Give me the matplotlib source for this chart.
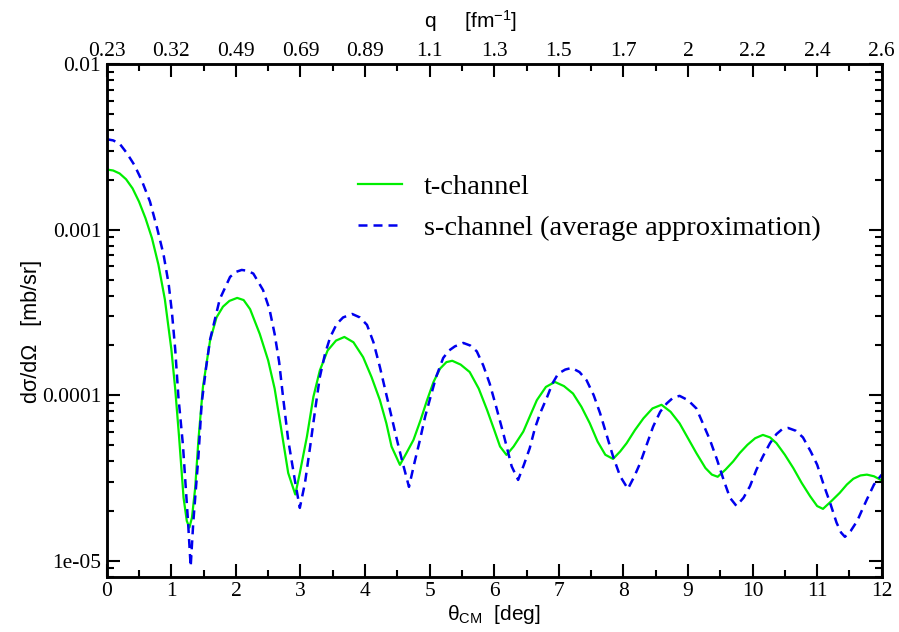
import numpy as np
import matplotlib
matplotlib.use("Agg")
import matplotlib.pyplot as plt
from matplotlib.ticker import FixedLocator, FixedFormatter, LogLocator, NullFormatter, MultipleLocator

# ---- data (cross sections given as log10 of mb/sr) ----
t_theta = [0, 0.1, 0.2, 0.3, 0.4, 0.5, 0.6, 0.7, 0.8, 0.9, 1.0, 1.06, 1.12, 1.19, 1.24,
           1.28, 1.32, 1.37, 1.42, 1.49, 1.6, 1.7, 1.8, 1.9, 2.02, 2.12, 2.22, 2.37, 2.5,
           2.6, 2.7, 2.81, 2.92, 2.99, 3.1, 3.2, 3.3, 3.42, 3.55, 3.68, 3.82, 3.97, 4.1,
           4.23, 4.33, 4.41, 4.54, 4.64, 4.75, 4.86, 4.96, 5.06, 5.16, 5.26, 5.35, 5.48,
           5.62, 5.76, 5.89, 6.0, 6.09, 6.19, 6.3, 6.45, 6.56, 6.66, 6.8, 6.94, 7.08, 7.22,
           7.35, 7.48, 7.6, 7.72, 7.84, 7.95, 8.05, 8.18, 8.31, 8.45, 8.59, 8.73, 8.87,
           9.0, 9.13, 9.27, 9.37, 9.46, 9.58, 9.7, 9.8, 9.92, 10.04, 10.16, 10.27, 10.37,
           10.5, 10.63, 10.76, 10.89, 11.0, 11.09, 11.22, 11.35, 11.46, 11.56, 11.67,
           11.77, 11.88, 12.0]
t_log10 = [-2.636, -2.642, -2.660, -2.695, -2.750, -2.830, -2.930, -3.050, -3.210, -3.420,
           -3.720, -3.960, -4.250, -4.620, -4.760, -4.800, -4.740, -4.560, -4.270, -3.950,
           -3.670, -3.530, -3.465, -3.430, -3.412, -3.425, -3.480, -3.630, -3.790, -3.960,
           -4.200, -4.470, -4.600, -4.470, -4.250, -4.010, -3.850, -3.730, -3.670, -3.648,
           -3.680, -3.770, -3.890, -4.030, -4.170, -4.310, -4.421, -4.350, -4.270, -4.150,
           -4.030, -3.920, -3.840, -3.800, -3.792, -3.815, -3.860, -3.960, -4.090, -4.210,
           -4.310, -4.361, -4.310, -4.220, -4.120, -4.030, -3.950, -3.920, -3.945, -3.990,
           -4.070, -4.170, -4.280, -4.360, -4.385, -4.340, -4.290, -4.210, -4.140, -4.080,
           -4.058, -4.100, -4.170, -4.260, -4.350, -4.440, -4.480, -4.493, -4.450, -4.400,
           -4.350, -4.300, -4.260, -4.240, -4.255, -4.290, -4.360, -4.440, -4.530, -4.610,
           -4.670, -4.687, -4.640, -4.590, -4.540, -4.505, -4.485, -4.480, -4.490, -4.515]

s_theta = [0, 0.1, 0.2, 0.31, 0.43, 0.54, 0.67, 0.78, 0.88, 0.96, 1.01, 1.06, 1.11, 1.18,
           1.26, 1.30, 1.34, 1.42, 1.47, 1.54, 1.6, 1.75, 1.91, 2.0, 2.09, 2.18, 2.27,
           2.42, 2.52, 2.6, 2.67, 2.73, 2.81, 2.92, 2.99, 3.07, 3.15, 3.23, 3.3, 3.38,
           3.46, 3.56, 3.66, 3.8, 3.92, 4.03, 4.13, 4.23, 4.32, 4.41, 4.5, 4.57, 4.68,
           4.77, 4.85, 4.93, 5.0, 5.1, 5.21, 5.3, 5.39, 5.52, 5.63, 5.73, 5.83, 5.93, 6.03,
           6.14, 6.27, 6.37, 6.46, 6.55, 6.63, 6.71, 6.82, 6.9, 6.99, 7.1, 7.2, 7.32, 7.43,
           7.54, 7.64, 7.74, 7.84, 7.95, 8.07, 8.17, 8.26, 8.36, 8.46, 8.57, 8.67, 8.77,
           8.87, 9.0, 9.13, 9.23, 9.34, 9.45, 9.55, 9.65, 9.75, 9.86, 9.96, 10.06, 10.16,
           10.27, 10.37, 10.46, 10.55, 10.67, 10.78, 10.9, 11.0, 11.1, 11.2, 11.3, 11.37,
           11.43, 11.52, 11.62, 11.7, 11.77, 11.88, 12.0]
s_log10 = [-2.453, -2.460, -2.480, -2.536, -2.610, -2.700, -2.830, -2.990, -3.150, -3.330,
           -3.500, -3.720, -4.010, -4.300, -4.770, -5.036, -4.770, -4.370, -4.050, -3.830,
           -3.665, -3.420, -3.285, -3.255, -3.243, -3.248, -3.265, -3.364, -3.480, -3.630,
           -3.800, -4.010, -4.270, -4.530, -4.681, -4.530, -4.310, -4.080, -3.890, -3.750,
           -3.650, -3.570, -3.530, -3.509, -3.530, -3.575, -3.680, -3.830, -3.980, -4.130,
           -4.280, -4.390, -4.554, -4.400, -4.270, -4.130, -4.030, -3.890, -3.775, -3.730,
           -3.705, -3.684, -3.700, -3.735, -3.820, -3.930, -4.070, -4.230, -4.430, -4.512,
           -4.420, -4.320, -4.200, -4.110, -4.010, -3.930, -3.870, -3.845, -3.835, -3.860,
           -3.910, -4.000, -4.110, -4.240, -4.370, -4.490, -4.566, -4.490, -4.410, -4.300,
           -4.190, -4.100, -4.050, -4.015, -4.004, -4.030, -4.080, -4.170, -4.270, -4.390,
           -4.510, -4.620, -4.669, -4.620, -4.550, -4.450, -4.370, -4.290, -4.235, -4.205,
           -4.198, -4.215, -4.255, -4.340, -4.420, -4.540, -4.650, -4.770, -4.830, -4.856,
           -4.820, -4.760, -4.690, -4.630, -4.540, -4.480]

x_ticks = list(range(0, 13))
q_labels = ["0.23", "0.32", "0.49", "0.69", "0.89", "1.1", "1.3", "1.5", "1.7", "2",
            "2.2", "2.4", "2.6"]
y_ticks = [1e-5, 1e-4, 1e-3, 1e-2]
y_labels = ["1e-05", "0.0001", "0.001", "0.01"]

series_labels = ["t-channel", "s-channel (average approximation)"]

# ---- figure ----
fig = plt.figure(figsize=(8.99, 6.32), dpi=100)
ax = fig.add_axes([0.1187, 0.0875, 0.8621, 0.8108])

ax.plot(t_theta, 10 ** np.array(t_log10), color="#00ee00", lw=1.6, ls="-",
        label=series_labels[0])
ax.plot(s_theta, 10 ** np.array(s_log10), color="#0000ee", lw=1.8,
        dashes=(3.6, 2.4), label=series_labels[1])

ax.set_yscale("log")
ax.set_xlim(0, 12)
ax.set_ylim(8.0e-6, 1e-2)

serif = "Liberation Serif"
sans = "Liberation Sans"

ax.xaxis.set_major_locator(FixedLocator(x_ticks))
ax.xaxis.set_minor_locator(MultipleLocator(0.5))
ax.yaxis.set_major_locator(FixedLocator(y_ticks))
ax.yaxis.set_major_formatter(FixedFormatter(y_labels))
ax.yaxis.set_minor_locator(LogLocator(base=10, subs=np.arange(2, 10), numticks=20))
ax.yaxis.set_minor_formatter(NullFormatter())

for lab in ax.get_xticklabels() + ax.get_yticklabels():
    lab.set_fontfamily(serif)
    lab.set_fontsize(15.5)

ax.tick_params(which="both", direction="in", top=False, right=True, color="black")
ax.tick_params(which="major", length=9.5, width=1.5, pad=4)
ax.tick_params(which="minor", length=5, width=1.5)
for sp in ax.spines.values():
    sp.set_linewidth(1.8)

# top axis (q)
ax2 = ax.twiny()
ax2.set_xlim(ax.get_xlim())
ax2.xaxis.set_major_locator(FixedLocator(x_ticks))
ax2.xaxis.set_major_formatter(FixedFormatter(q_labels))
ax2.xaxis.set_minor_locator(MultipleLocator(0.5))
ax2.tick_params(which="both", direction="in")
ax2.tick_params(which="major", length=9.5, width=1.5, pad=2)
ax2.tick_params(which="minor", length=5, width=1.5)
for lab in ax2.get_xticklabels():
    lab.set_fontfamily(serif)
    lab.set_fontsize(15.5)
for sp in ax2.spines.values():
    sp.set_linewidth(1.8)

ax.set_xlabel(r"$\mathregular{\theta_{CM}}$  [deg]", fontfamily=sans, fontsize=15, labelpad=1)
ax.set_ylabel("dσ/dΩ   [mb/sr]", fontfamily=sans, fontsize=15.5)
ax.yaxis.set_label_coords(-0.0835, 0.4795)
ax2.set_xlabel(r"q     [fm$\mathregular{^{-1}}$]", fontfamily=sans, fontsize=15)
ax2.xaxis.set_label_coords(0.470, 1.0708)

leg = ax.legend(loc="center left", bbox_to_anchor=(0.310, 0.7205), frameon=False,
                borderaxespad=0, borderpad=0.4,
                handlelength=1.55, handletextpad=0.75, labelspacing=0.5,
                prop={"family": serif, "size": 20.5})

fig.savefig("out.png", dpi=100)
